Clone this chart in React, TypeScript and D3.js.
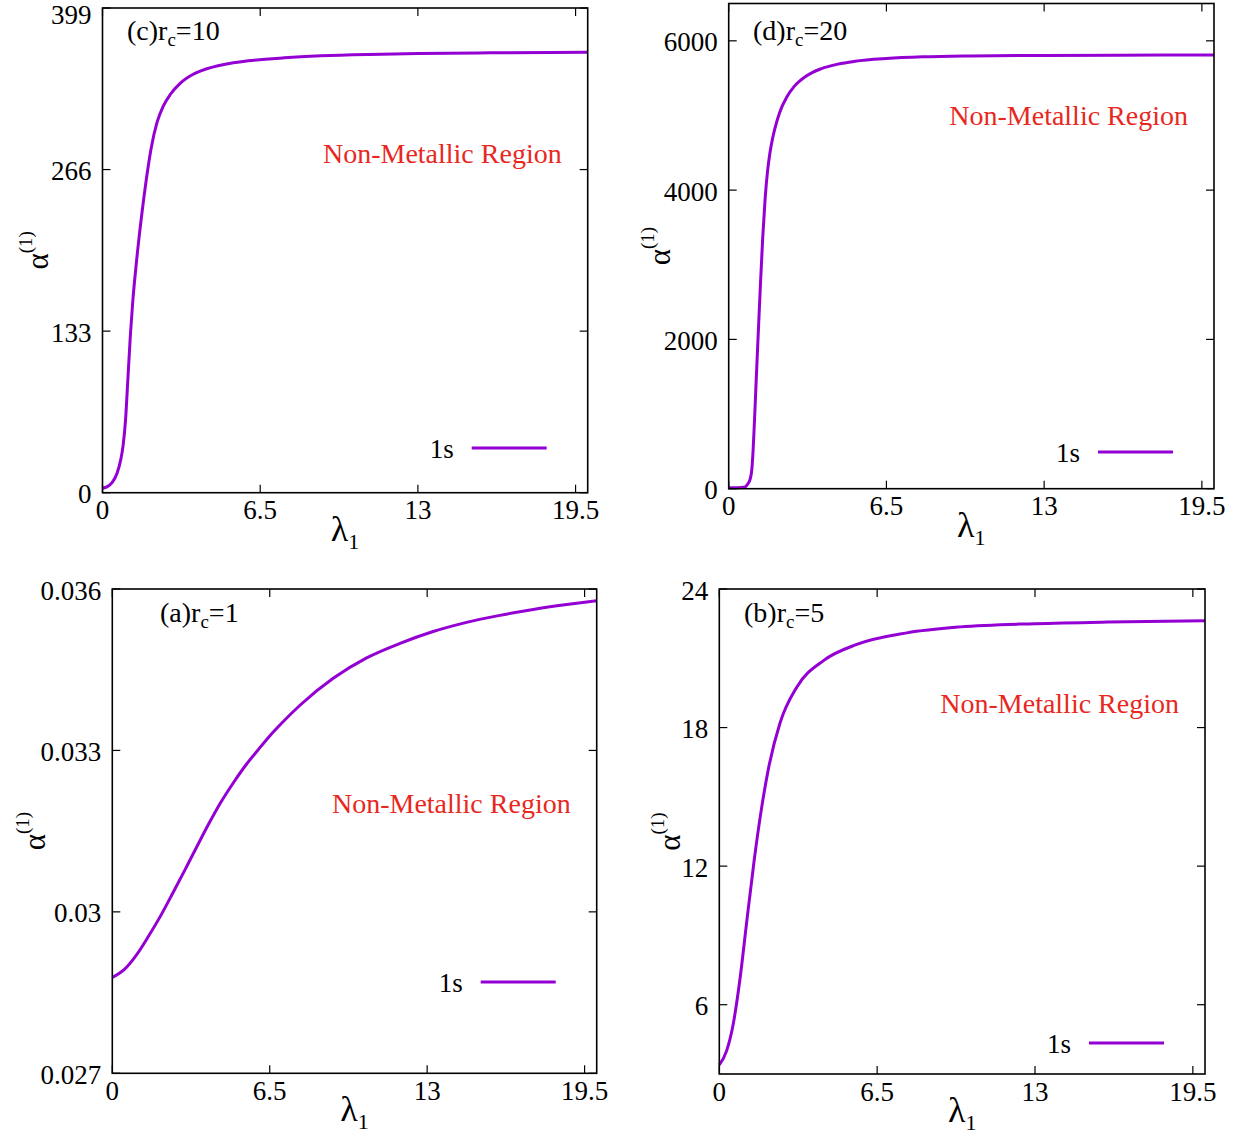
import React from "react";
import * as d3 from "d3";

// ---------- data ----------
const xTickValues = [0, 6.5, 13, 19.5];
const xTickLabels = ["0", "6.5", "13", "19.5"];

// panel (c) rc = 10
const lambdaC = [0, 0.2, 0.4, 0.6, 0.75, 0.85, 0.95, 1.05, 1.15, 1.25, 1.4, 1.6, 1.8, 2.0, 2.25, 2.5, 2.8, 3.2, 3.7, 4.3, 5.0, 6.0, 7.5, 9.0, 11.0, 13.0, 16.0, 20.0];
const alphaC = [3.6, 5, 8.5, 16, 27, 39, 60, 95, 130, 158, 190, 226, 257, 283, 305, 318, 328, 337, 344, 349, 352.5, 355.5, 358, 359.6, 360.8, 361.5, 362.1, 362.6];
const yTicksC = [0, 133, 266, 399];
const yTickLabelsC = ["0", "133", "266", "399"];

// panel (d) rc = 20
const lambdaD = [0, 0.4, 0.6, 0.7, 0.8, 0.88, 0.95, 1.0, 1.05, 1.12, 1.2, 1.3, 1.4, 1.5, 1.6, 1.7, 1.8, 1.9, 2.1, 2.4, 2.7, 3.2, 3.8, 4.5, 5.2, 6.5, 8.0, 10.0, 13.0, 16.0, 20.0];
const alphaD = [13, 14, 18, 30, 70, 125, 250, 480, 820, 1350, 1950, 2680, 3350, 3880, 4250, 4500, 4680, 4820, 5040, 5250, 5390, 5530, 5625, 5688, 5725, 5762, 5785, 5798, 5805, 5808, 5810];
const yTicksD = [0, 2000, 4000, 6000];
const yTickLabelsD = ["0", "2000", "4000", "6000"];

// panel (a) rc = 1
const lambdaA = [0, 0.5, 1.0, 1.5, 2.0, 2.5, 3.0, 3.5, 4.0, 4.5, 5.0, 5.5, 6.0, 6.5, 7.0, 7.75, 9.12, 10.5, 11.88, 13.25, 14.63, 16.0, 17.38, 18.76, 20.0];
const alphaA = [0.02878, 0.02893, 0.0292, 0.02955, 0.02993, 0.03035, 0.03078, 0.03122, 0.03165, 0.03205, 0.0324, 0.03272, 0.033, 0.03327, 0.03351, 0.03384, 0.03434, 0.03472, 0.03499, 0.03521, 0.03538, 0.03551, 0.03562, 0.03571, 0.03578];
const yTicksA = [0.027, 0.03, 0.033, 0.036];
const yTickLabelsA = ["0.027", "0.03", "0.033", "0.036"];

// panel (b) rc = 5
const lambdaB = [0, 0.3, 0.58, 0.85, 1.13, 1.43, 1.68, 2.02, 2.5, 3.19, 4.29, 5.66, 7.72, 9.92, 13.0, 16.0, 20.0];
const alphaB = [3.39, 4.0, 5.2, 7.1, 9.6, 12.2, 14.1, 16.2, 18.2, 19.75, 20.9, 21.6, 22.1, 22.36, 22.5, 22.57, 22.62];
const yTicksB = [6, 12, 18, 24];
const yTickLabelsB = ["6", "12", "18", "24"];

const panelLetters = ["c", "d", "a", "b"];
const rcValues = ["10", "20", "1", "5"];
const legendName = "1s";
const regionText = "Non-Metallic Region";

// ---------- layout ----------
const FONT = "'Liberation Serif', 'Times New Roman', serif";
const CURVE = "#9400d3";
const RED = "#e8281e";

type Panel = {
  box: { l: number; t: number; r: number; b: number };
  yDomain: [number, number];
  yTicks: number[];
  yTickLabels: string[];
  xs: number[];
  ys: number[];
  letter: string;
  rc: string;
  labelPos: { x: number; y: number };
  regionY: number;
  legendY: number;
  ylabelX: number;
};

const panels: Panel[] = [
  { box: { l: 102.5, t: 8, r: 587.7, b: 492.7 }, yDomain: [0, 399], yTicks: yTicksC, yTickLabels: yTickLabelsC, xs: lambdaC, ys: alphaC, letter: panelLetters[0], rc: rcValues[0], labelPos: { x: 127, y: 40 }, regionY: 163, legendY: 448, ylabelX: 48 },
  { box: { l: 728.7, t: 3.5, r: 1214, b: 488.7 }, yDomain: [0, 6500], yTicks: yTicksD, yTickLabels: yTickLabelsD, xs: lambdaD, ys: alphaD, letter: panelLetters[1], rc: rcValues[1], labelPos: { x: 753, y: 40 }, regionY: 125, legendY: 452, ylabelX: 670 },
  { box: { l: 112.3, t: 589, r: 596.7, b: 1073.3 }, yDomain: [0.027, 0.036], yTicks: yTicksA, yTickLabels: yTickLabelsA, xs: lambdaA, ys: alphaA, letter: panelLetters[2], rc: rcValues[2], labelPos: { x: 160, y: 622 }, regionY: 813, legendY: 982, ylabelX: 45 },
  { box: { l: 719.3, t: 589, r: 1205, b: 1074 }, yDomain: [3, 24], yTicks: yTicksB, yTickLabels: yTickLabelsB, xs: lambdaB, ys: alphaB, letter: panelLetters[3], rc: rcValues[3], labelPos: { x: 744, y: 622 }, regionY: 713, legendY: 1043, ylabelX: 680 },
];

function PanelView({ p }: { p: Panel }) {
  const { l, t, r, b } = p.box;
  const x = d3.scaleLinear().domain([0, 20]).range([l, r]);
  const y = d3.scaleLinear().domain(p.yDomain).range([b, t]);
  const pts = p.xs.map((v, i) => [v, p.ys[i]] as [number, number]);
  const line = d3
    .line<[number, number]>()
    .x((d) => x(d[0]))
    .y((d) => y(d[1]))
    .curve(d3.curveMonotoneX);
  const tickLen = 8;
  const legLineEnd = r - 41;
  const legLineStart = legLineEnd - 75;
  return (
    <g>
      {xTickValues.map((v, i) => (
        <g key={"xt" + i}>
          <line x1={x(v)} x2={x(v)} y1={b} y2={b - tickLen} stroke="#000" strokeWidth={1.2} />
          <line x1={x(v)} x2={x(v)} y1={t} y2={t + tickLen} stroke="#000" strokeWidth={1.2} />
          <text x={x(v)} y={b + 26.5} textAnchor="middle" fontSize={27} fontFamily={FONT}>
            {xTickLabels[i]}
          </text>
        </g>
      ))}
      {p.yTicks.map((v, i) => (
        <g key={"yt" + i}>
          <line x1={l} x2={l + tickLen} y1={y(v)} y2={y(v)} stroke="#000" strokeWidth={1.2} />
          <line x1={r} x2={r - tickLen} y1={y(v)} y2={y(v)} stroke="#000" strokeWidth={1.2} />
          <text x={l - 11} y={Math.max(y(v) + 10.5, 24)} textAnchor="end" fontSize={27} fontFamily={FONT}>
            {p.yTickLabels[i]}
          </text>
        </g>
      ))}
      <path d={line(pts) || ""} fill="none" stroke={CURVE} strokeWidth={3} strokeLinejoin="round" />
      <rect x={l} y={t} width={r - l} height={b - t} fill="none" stroke="#000" strokeWidth={1.6} />
      <text x={p.labelPos.x} y={p.labelPos.y} fontSize={28} fontFamily={FONT}>
        ({p.letter})r
        <tspan fontSize={19} dy={6}>c</tspan>
        <tspan dy={-6}>={p.rc}</tspan>
      </text>
      <text x={r - 26} y={p.regionY} textAnchor="end" fontSize={28} fontFamily={FONT} fill={RED}>
        {regionText}
      </text>
      <line x1={legLineStart} x2={legLineEnd} y1={p.legendY} y2={p.legendY} stroke={CURVE} strokeWidth={3} />
      <text x={legLineStart - 18} y={p.legendY + 10} textAnchor="end" fontSize={27} fontFamily={FONT}>
        {legendName}
      </text>
      <text x={(l + r) / 2} y={b + 48} textAnchor="middle" fontSize={36} fontFamily={FONT}>
        λ<tspan fontSize={22} dy={8}>1</tspan>
      </text>
      <text
        transform={`translate(${p.ylabelX},${(t + b) / 2}) rotate(-90)`}
        textAnchor="middle"
        fontSize={31}
        fontFamily={FONT}
      >
        α<tspan fontSize={19} dy={-16}>(1)</tspan>
      </text>
    </g>
  );
}

export default function App() {
  return (
    <svg
      width={1245}
      height={1137}
      viewBox="0 0 1245 1137"
      style={{ position: "absolute", left: 0, top: 0, background: "#fff" }}
    >
      <rect x={0} y={0} width={1245} height={1137} fill="#fff" />
      {panels.map((p, i) => (
        <PanelView key={i} p={p} />
      ))}
    </svg>
  );
}
